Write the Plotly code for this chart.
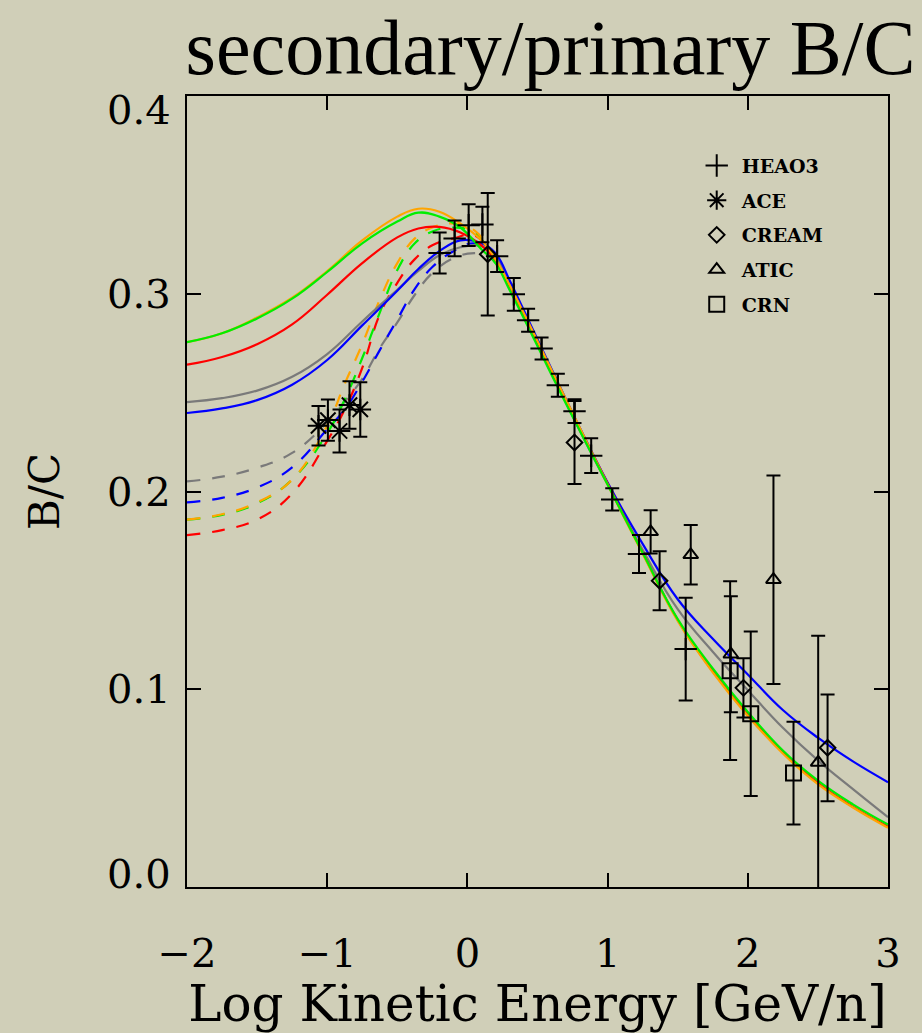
import plotly.graph_objects as go

# ---------------- data ----------------
# model curves (solid = interstellar, dashed = modulated)
xs_solid = [-2.0, -1.75, -1.5, -1.25, -1.0, -0.75, -0.5, -0.35, -0.2, -0.05, 0.1, 0.2, 0.3, 0.4,
            0.6, 0.8, 1.0, 1.25, 1.5, 1.75, 2.0, 2.25, 2.5, 2.75, 3.0]
y_green = [0.2755, 0.2800, 0.2875, 0.2975, 0.311, 0.3255, 0.3365, 0.341, 0.339, 0.3335, 0.3225, 0.3155, 0.302, 0.288,
           0.259, 0.231, 0.2035, 0.169, 0.1355, 0.1105, 0.0885, 0.069, 0.0538, 0.0418, 0.0316]
y_orange = [0.2755, 0.2800, 0.2880, 0.298, 0.3115, 0.327, 0.339, 0.343, 0.3415, 0.3355, 0.327, 0.3175, 0.3045, 0.2905,
            0.2615, 0.2325, 0.2035, 0.1685, 0.1345, 0.1085, 0.0865, 0.0675, 0.052, 0.0402, 0.030]
y_red = [0.2641, 0.2680, 0.2745, 0.2845, 0.2995, 0.3155, 0.3285, 0.333, 0.3338, 0.331, 0.3245, 0.317, 0.304, 0.290,
         0.261, 0.232, 0.204, 0.169, 0.135, 0.109, 0.087, 0.068, 0.0525, 0.0405, 0.0305]
y_gray = [0.2452, 0.2472, 0.2510, 0.2580, 0.2695, 0.2860, 0.302, 0.3115, 0.3195, 0.3235, 0.324, 0.319, 0.306, 0.2905,
          0.2605, 0.231, 0.2035, 0.1705, 0.1405, 0.119, 0.0995, 0.0805, 0.064, 0.0495, 0.0353]
y_blue = [0.2397, 0.2420, 0.2462, 0.2540, 0.2665, 0.284, 0.3015, 0.3125, 0.3215, 0.327, 0.3255, 0.3205, 0.307, 0.292,
          0.262, 0.2325, 0.2045, 0.1735, 0.1455, 0.1255, 0.1075, 0.0895, 0.0755, 0.0635, 0.053]

xs_dash = [-2.0, -1.75, -1.5, -1.25, -1.0, -0.875, -0.75, -0.625, -0.5, -0.375, -0.25, -0.1, 0.05, 0.2]
yd_gray = [0.2051, 0.2075, 0.2120, 0.2195, 0.235, 0.2455, 0.257, 0.2725, 0.2855, 0.2995, 0.3105, 0.318, 0.3205, 0.319]
yd_blue = [0.1945, 0.1968, 0.2020, 0.2122, 0.2315, 0.2415, 0.2555, 0.2715, 0.287, 0.3025, 0.3135, 0.3215, 0.3255, 0.3205]
yd_green = [0.1858, 0.1882, 0.1940, 0.206, 0.2295, 0.2465, 0.2675, 0.2905, 0.312, 0.3255, 0.3315, 0.3335, 0.331, 0.3155]
yd_orange = [0.1858, 0.1885, 0.1945, 0.2060, 0.2335, 0.2545, 0.2745, 0.297, 0.3155, 0.328, 0.3335, 0.3355, 0.332, 0.3175]
yd_red = [0.1779, 0.1805, 0.1858, 0.1990, 0.2256, 0.2415, 0.2625, 0.2895, 0.3055, 0.3175, 0.3245, 0.328, 0.3295, 0.317]

# measurements
heao3_x = [-0.198, -0.091, 0.009, 0.107, 0.212, 0.331, 0.433, 0.529, 0.645, 0.764, 0.883, 1.033, 1.224, 1.557]
heao3_y = [0.3206, 0.328, 0.3347, 0.335, 0.319, 0.2997, 0.2866, 0.2723, 0.2537, 0.2406, 0.2181, 0.196, 0.1684, 0.1203]
heao3_e = [0.0104, 0.009, 0.0105, 0.009, 0.008, 0.0083, 0.0058, 0.0056, 0.0058, 0.006, 0.0088, 0.0056, 0.0096, 0.026]

ace_x = [-1.062, -0.995, -0.912, -0.841, -0.764]
ace_y = [0.2332, 0.2361, 0.2306, 0.2437, 0.2415]
ace_e = [0.010, 0.0104, 0.0109, 0.012, 0.0138]

cream_x = [0.145, 0.764, 1.371, 1.969, 2.569]
cream_y = [0.320, 0.2248, 0.1549, 0.1007, 0.0704]
cream_e = [0.031, 0.021, 0.0149, 0.015, 0.027]

atic_x = [1.307, 1.593, 1.879, 2.183, 2.502]
atic_y = [0.1796, 0.168, 0.1177, 0.1554, 0.063]
atic_e = [0.0109, 0.015, 0.0293, 0.0527, 0.064]

crn_x = [1.874, 2.021, 2.326]
crn_y = [0.1094, 0.0876, 0.0576]
crn_e = [0.0452, 0.0416, 0.026]

x_ticks = [-2, -1, 0, 1, 2, 3]
y_ticks = [0.0, 0.1, 0.2, 0.3, 0.4]

# ---------------- figure ----------------
BG = "#d0cfb8"
AXFONT = "DejaVu Serif"
fig = go.Figure()

dash_pat = "13px,12px"
for ys, col in [(yd_gray, "#7a7a7a"), (yd_blue, "#0000ff"), (yd_red, "#ff0000"),
                (yd_green, "#00ee00"), (yd_orange, "#ffa500")]:
    fig.add_trace(go.Scatter(x=xs_dash, y=ys, mode="lines", showlegend=False, hoverinfo="skip",
                             line=dict(color=col, width=2.2, dash=dash_pat, shape="spline", smoothing=1.2)))

for ys, col in [(y_gray, "#7a7a7a"), (y_blue, "#0000ff"), (y_red, "#ff0000"),
                (y_orange, "#ffa500"), (y_green, "#00ee00")]:
    fig.add_trace(go.Scatter(x=xs_solid, y=ys, mode="lines", showlegend=False, hoverinfo="skip",
                             line=dict(color=col, width=2.2, shape="spline", smoothing=1.2)))

def data_trace(name, x, y, e, symbol, size):
    return go.Scatter(
        x=x, y=y, mode="markers", name=name, legendgroup=name,
        marker=dict(symbol=symbol, size=size, color="black",
                    line=dict(color="black", width=2)),
        error_y=dict(type="data", array=e, visible=True, color="black", thickness=2, width=7),
    )

fig.add_trace(data_trace("HEAO3", heao3_x, heao3_y, heao3_e, "cross-thin-open", 16))
fig.add_trace(data_trace("ACE", ace_x, ace_y, ace_e, "asterisk-open", 18))
fig.add_trace(data_trace("CREAM", cream_x, cream_y, cream_e, "diamond-open", 12))
fig.add_trace(data_trace("ATIC", atic_x, atic_y, atic_e, "triangle-up-open", 13))
fig.add_trace(data_trace("CRN", crn_x, crn_y, crn_e, "square-open", 15))

axis_common = dict(
    showline=True, linecolor="black", linewidth=2, mirror="ticks",
    ticks="inside", ticklen=14, tickwidth=2, tickcolor="black",
    showgrid=False, zeroline=False,
    tickfont=dict(family=AXFONT, size=40, color="black"),
)

fig.update_xaxes(range=[-2, 3], tickvals=x_ticks, ticklabelstandoff=30,
                 title=dict(text="Log Kinetic Energy [GeV/n]",
                            font=dict(family=AXFONT, size=50, color="black"), standoff=10),
                 **axis_common)
fig.update_yaxes(range=[0, 0.4], tickvals=y_ticks, showticklabels=False,
                 title=dict(text="B/C", font=dict(family=AXFONT, size=42, color="black"), standoff=112),
                 **axis_common)

# y tick labels, IDL style: end labels pulled inside the axis span
for v in y_ticks:
    shift = -14 if v == max(y_ticks) else (13 if v == min(y_ticks) else 0)
    fig.add_annotation(x=0, xref="paper", y=v, yref="y", text=f"{v:.1f}", showarrow=False,
                       xanchor="right", yanchor="middle", xshift=-14, yshift=shift,
                       font=dict(family=AXFONT, size=40, color="black"))

fig.update_layout(
    width=922, height=1033,
    margin=dict(l=187, r=34, t=96, b=140),
    paper_bgcolor=BG, plot_bgcolor=BG,
    title=dict(text="secondary/primary B/C", xref="container", yref="container",
               x=0.993, xanchor="right", y=0.955, yanchor="middle",
               font=dict(family="Liberation Serif", size=78, color="black")),
    legend=dict(x=0.72, y=0.936, xanchor="left", yanchor="top",
                bgcolor="rgba(0,0,0,0)", borderwidth=0,
                font=dict(family=AXFONT, size=19, color="black", weight="bold"),
                tracegroupgap=7, traceorder="grouped", itemwidth=40),
    showlegend=True,
)

fig.write_html("out.html")
